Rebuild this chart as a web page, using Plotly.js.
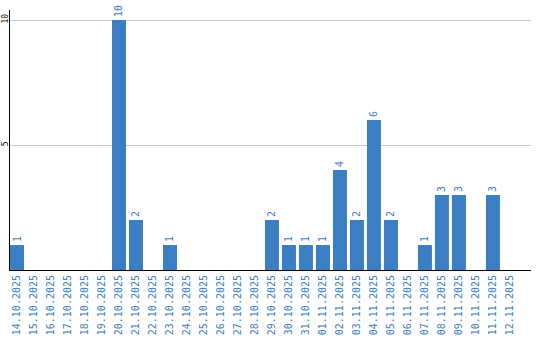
<!DOCTYPE html>
<html>
<head>
<meta charset="utf-8">
<script src="https://cdn.plot.ly/plotly-3.0.1.min.js"></script>
<style>html,body{margin:0;padding:0;background:#fff;}#chart{width:540px;height:340px;}</style>
</head>
<body>
<div id="chart"></div>
<script>
const dates = ["14.10.2025","15.10.2025","16.10.2025","17.10.2025","18.10.2025","19.10.2025","20.10.2025","21.10.2025","22.10.2025","23.10.2025","24.10.2025","25.10.2025","26.10.2025","27.10.2025","28.10.2025","29.10.2025","30.10.2025","31.10.2025","01.11.2025","02.11.2025","03.11.2025","04.11.2025","05.11.2025","06.11.2025","07.11.2025","08.11.2025","09.11.2025","10.11.2025","11.11.2025","12.11.2025"];
const counts = [1,0,0,0,0,0,10,2,0,1,0,0,0,0,0,2,1,1,1,4,2,6,2,0,1,3,3,0,3,0];
const yTicks = [5,10];

const blue = "#3b7ec3";
const labels = counts.map(v => v > 0 ? String(v) : "");

Plotly.newPlot("chart", [{
  type: "bar",
  x: dates,
  y: counts,
  marker: {color: blue},
  text: labels,
  textposition: "outside",
  textangle: -90,
  cliponaxis: false,
  textfont: {family: "DejaVu Sans Mono", size: 10, color: blue},
  hoverinfo: "none"
}], {
  width: 540, height: 340,
  margin: {l: 10, r: 9, t: 10, b: 70},
  paper_bgcolor: "#fff", plot_bgcolor: "#fff",
  bargap: 0.1765,
  showlegend: false,
  xaxis: {
    type: "category",
    range: [-0.412, 30.24],
    tickangle: -90,
    tickfont: {family: "DejaVu Sans Mono", size: 10, color: blue},
    showgrid: false, zeroline: false,
    showline: true, linecolor: "#000", linewidth: 1,
    ticks: "", fixedrange: true
  },
  yaxis: {
    range: [0, 10.4],
    tickvals: yTicks,
    ticktext: yTicks.map(String),
    tickangle: -90,
    ticklabelstandoff: -2,
    automargin: false,
    tickfont: {family: "DejaVu Sans Mono", size: 8, color: "#000"},
    showgrid: true, gridcolor: "#c8c8c8", gridwidth: 1,
    zeroline: false,
    showline: true, linecolor: "#000", linewidth: 1,
    ticks: "", fixedrange: true
  }
}, {displayModeBar: false, staticPlot: true});
</script>
</body>
</html>
